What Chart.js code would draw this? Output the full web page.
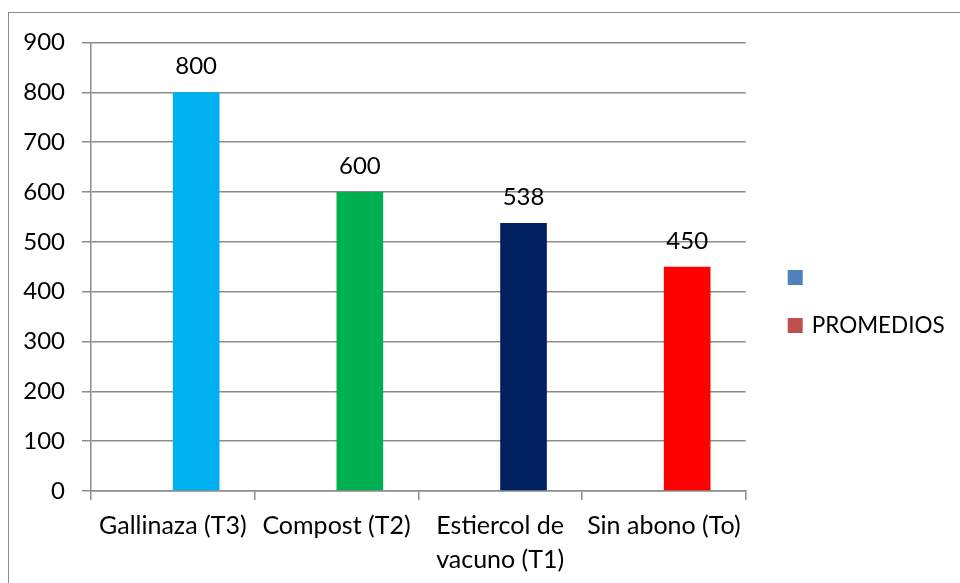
<!DOCTYPE html>
<html>
<head>
<meta charset="utf-8">
<script src="https://cdn.jsdelivr.net/npm/chart.js@4.4.0/dist/chart.umd.min.js"></script>
<style>
  html, body { margin: 0; padding: 0; background: #fff; }
  #wrap { position: relative; width: 960px; height: 583px; overflow: hidden; }
  #frame { position: absolute; left: 8px; top: 12px; width: 1000px; height: 700px;
           border: 1.5px solid #8c8c8c; box-sizing: border-box; }
  #chart-id { position: absolute; left: 0; top: 0; }
</style>
</head>
<body>
<div id="wrap">
  <div id="frame"></div>
  <canvas id="chart-id" width="960" height="583"></canvas>
</div>
<script>
// data
const categories = ['Gallinaza (T3)', 'Compost (T2)', ['Estiercol de', 'vacuno (T1)'], 'Sin abono (To)'];
const promedios = [800, 600, 538, 450];
const emptySeries = [null, null, null, null];
const barColors = ['#00B0F0', '#00B050', '#002060', '#FF0000'];
const seriesLabels = ['', 'PROMEDIOS'];
const seriesColors = ['#4F81BD', '#C0504D'];

const FONT = 'Lato, "Open Sans", sans-serif';
const GRID = '#8c8c8c';

// value labels above bars
const valueLabels = {
  id: 'valueLabels',
  afterDatasetsDraw(chart) {
    const ctx = chart.ctx;
    const meta = chart.getDatasetMeta(1);
    ctx.save();
    ctx.font = '24px ' + FONT;
    ctx.fillStyle = '#000';
    ctx.textAlign = 'center';
    ctx.textBaseline = 'alphabetic';
    meta.data.forEach((bar, i) => {
      ctx.fillText(String(chart.data.datasets[1].data[i]), bar.x, bar.y - 18);
    });
    ctx.restore();
  }
};

// legend on the right, like the office chart
const sideLegend = {
  id: 'sideLegend',
  afterDraw(chart) {
    const ctx = chart.ctx;
    const area = chart.chartArea;
    const x = area.right + 42;
    let y = 270;
    ctx.save();
    ctx.font = '22.5px ' + FONT;
    ctx.textBaseline = 'alphabetic';
    ctx.textAlign = 'left';
    chart.data.datasets.forEach((ds, i) => {
      ctx.fillStyle = seriesColors[i];
      ctx.fillRect(x, y, 15, 15);
      ctx.fillStyle = '#000';
      ctx.fillText(ds.label, x + 24, y + 15);
      y += 48;
    });
    ctx.restore();
  }
};

new Chart(document.getElementById('chart-id'), {
  type: 'bar',
  data: {
    labels: categories,
    datasets: [
      {
        label: seriesLabels[0],
        data: emptySeries,
        backgroundColor: seriesColors[0]
      },
      {
        label: seriesLabels[1],
        data: promedios,
        backgroundColor: barColors
      }
    ]
  },
  options: {
    responsive: false,
    animation: false,
    categoryPercentage: 0.57,
    barPercentage: 1,
    layout: { padding: { top: 42.5, right: 214.3, bottom: 0, left: 0 } },
    plugins: {
      legend: { display: false },
      tooltip: { enabled: false }
    },
    scales: {
      x: {
        afterFit: scale => { scale.height = 92; },
        grid: {
          offset: true,
          drawOnChartArea: false,
          tickLength: 9,
          color: GRID,
          lineWidth: 1.5
        },
        border: { color: GRID, width: 1.5 },
        ticks: {
          color: '#000',
          padding: 9,
          maxRotation: 0,
          autoSkip: false,
          font: { family: FONT, size: 25, lineHeight: 1.36 }
        }
      },
      y: {
        min: 0,
        max: 900,
        afterFit: scale => { scale.width = 91; },
        grid: { color: GRID, lineWidth: 1.5, tickLength: 9 },
        border: { color: GRID, width: 1.5 },
        ticks: {
          stepSize: 100,
          color: '#000',
          padding: 17,
          font: { family: FONT, size: 24 }
        }
      }
    }
  },
  plugins: [valueLabels, sideLegend]
});
</script>
</body>
</html>
